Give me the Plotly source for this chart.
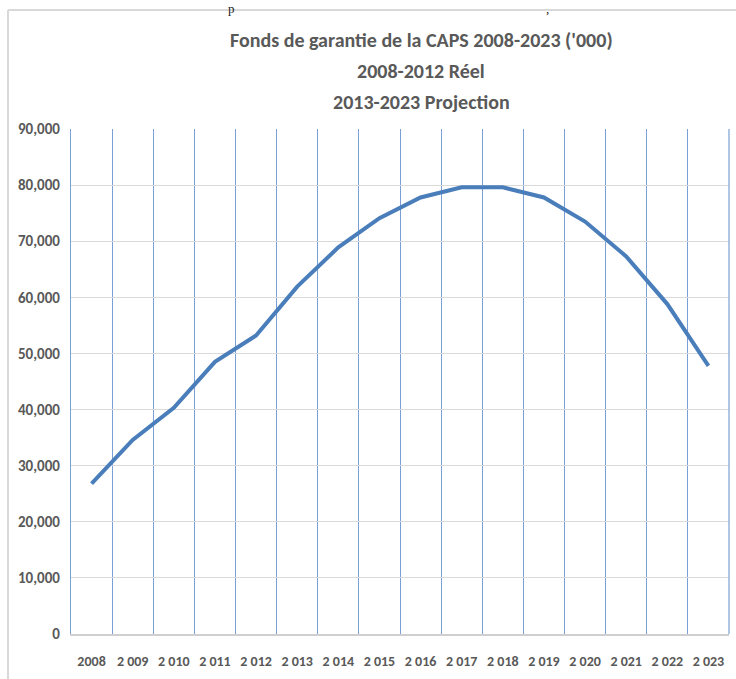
import plotly.graph_objects as go

years = ["2008", "2 009", "2 010", "2 011", "2 012", "2 013", "2 014", "2 015",
         "2 016", "2 017", "2 018", "2 019", "2 020", "2 021", "2 022", "2 023"]
fonds = [26800, 34600, 40300, 48500, 53200, 61900, 68900, 74100,
         77800, 79600, 79600, 77800, 73500, 67300, 58800, 47800]
y_ticks = [0, 10000, 20000, 30000, 40000, 50000, 60000, 70000, 80000, 90000]

title_lines = ["Fonds de garantie de la CAPS 2008-2023 ('000)",
               "2008-2012 Réel",
               "2013-2023 Projection"]

FONT = "Carlito, 'Liberation Sans Narrow', 'DejaVu Sans Condensed', 'Roboto Condensed', 'Open Sans', sans-serif"
GREY = "#595959"
BLUE = "#4a7ebb"

W, H = 736, 679
L, R, T, B = 71, 7, 129, 45
PW, PH = W - L - R, H - T - B
BX, BY = 8, 10  # outer frame position (px)

fig = go.Figure()
fig.add_trace(go.Scatter(
    x=years, y=fonds, mode="lines",
    line=dict(color=BLUE, width=4),
    showlegend=False, hoverinfo="x+y",
))

fig.update_layout(
    width=W, height=H,
    margin=dict(l=L, r=R, t=T, b=B),
    paper_bgcolor="white", plot_bgcolor="white",
    font=dict(family=FONT, color=GREY, size=14),
    xaxis=dict(
        type="category", tickson="boundaries",
        showgrid=True, gridcolor="#7a9fd4", gridwidth=1.2,
        showline=True, linecolor="#d0d0d0", linewidth=1.5,
        ticks="", ticklabelstandoff=13,
        tickfont=dict(family=FONT, size=14, color=GREY, weight="bold"),
        range=[-0.5, 15.5], fixedrange=True,
    ),
    yaxis=dict(
        range=[0, 90000], tickvals=y_ticks, tickformat=",",
        showgrid=True, gridcolor="#d9d9d9", gridwidth=1.2,
        zeroline=False, showline=True, linecolor="#7a9fd4", linewidth=1.2,
        ticks="", ticklabelstandoff=7,
        tickfont=dict(family=FONT, size=15, color=GREY, weight="bold"),
    ),
    shapes=[
        dict(type="line", xref="paper", yref="paper",
             x0=(BX - L) / PW, x1=(BX - L) / PW,
             y0=-(B + 5) / PH, y1=1 + (T - BY) / PH,
             line=dict(color="#d9d9d9", width=2)),
        dict(type="line", xref="paper", yref="paper",
             x0=(BX - L) / PW, x1=(W + 5 - L) / PW,
             y0=1 + (T - BY) / PH, y1=1 + (T - BY) / PH,
             line=dict(color="#d9d9d9", width=2)),
        dict(type="line", xref="paper", yref="paper",
             x0=1, x1=1, y0=0, y1=1, line=dict(color="#7a9fd4", width=1.2)),
    ],
)

for i, t in enumerate(title_lines):
    fig.add_annotation(
        text="<b>" + t + "</b>", xref="paper", yref="paper",
        x=(421 - L) / PW, y=1, yanchor="middle", xanchor="center",
        yshift=(T - 40) - i * 31, showarrow=False,
        font=dict(family=FONT, size=20, color=GREY),
    )

# fragments of the surrounding document text at the top edge
for frag, px in [("p", 231), (",", 547)]:
    fig.add_annotation(
        text=frag, xref="paper", yref="paper",
        x=(px - L) / PW, y=1, yanchor="top", xanchor="center",
        yshift=T + 1, showarrow=False,
        font=dict(family="'Liberation Serif', serif", size=13, color="#222222"),
    )

fig.write_html(
    "out.html",
    config={"displayModeBar": False},
    post_script="document.body.style.margin='0';document.body.style.overflow='hidden';",
)
